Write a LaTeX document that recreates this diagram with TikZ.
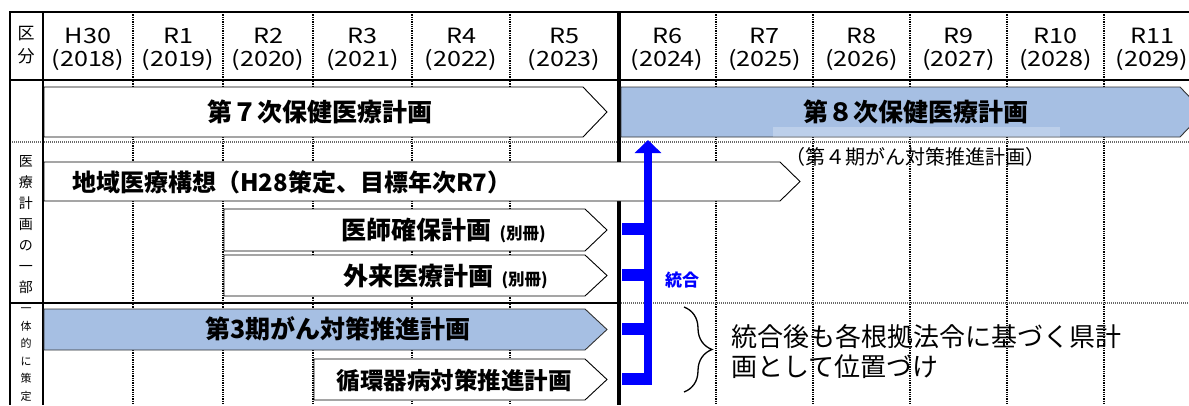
\documentclass[tikz,border=0pt]{standalone}
\usepackage{fontspec}
\setmainfont{Noto Sans CJK JP}
\newfontfamily\latfont[FakeStretch=1.2]{Noto Sans CJK JP}
\usetikzlibrary{arrows.meta,decorations.pathreplacing}
\definecolor{planblue}{RGB}{166,191,227}
\definecolor{busblue}{RGB}{0,0,255}
\definecolor{gridgray}{RGB}{105,105,105}
\newcommand{\planshape}[6]{\draw[#1] (#2,#3) -- ({#4-#6},#3) -- (#4,{(#3+#5)/2}) -- ({#4-#6},#5) -- (#2,#5) -- cycle;}
\begin{document}
\begin{tikzpicture}[x=1pt,y=-1pt,
  frameline/.style={line width=2pt,black},
  colsep/.style={line width=1.1pt,black,dash pattern=on 1.3pt off 1pt},
  rowsep/.style={line width=1.1pt,gridgray,dash pattern=on 1pt off 1pt},
  planbox/.style={draw=black,line width=0.9pt,fill=white},
  bluebox/.style={draw=black!80,line width=0.9pt,fill=planblue},
  boxtext/.style={inner sep=0pt,font=\bfseries\fontsize{25}{28}\selectfont},
  yrtext/.style={inner sep=0pt,font=\latfont\fontsize{21}{24}\selectfont},
  sidetext/.style={inner sep=0pt,align=center},
  notetext/.style={inner sep=0pt,font=\fontsize{20}{23}\selectfont},
  bustext/.style={inner sep=0pt,text=busblue,font=\bfseries\fontsize{17}{20}\selectfont},
  bodytext/.style={inner sep=0pt,align=left,font=\fontsize{26}{30}\selectfont},
  busline/.style={busblue,line width=8pt},
  busstub/.style={busblue,line width=12pt},
]
\useasboundingbox (0,0) rectangle (1189,405);
% ---------- grid ----------
\foreach \gx in {133,223,313,412,510,716,813,910,1007,1104}
  \draw[colsep] (\gx,12) -- (\gx,405);
\draw[rowsep] (10,142) -- (1189,142);
\draw[rowsep] (619,303) -- (1189,303);
\draw[line width=1.2pt] (10,303) -- (619,303);
\draw[line width=1.3pt] (10,80) -- (1189,80);
\draw[frameline] (9,12) -- (1189,12);
\draw[frameline] (10,12) -- (10,405);
\draw[frameline] (43,12) -- (43,405);
\draw[line width=3.5pt] (619,12) -- (619,405);
% ---------- plan boxes ----------
\planshape{planbox}{44}{87}{607}{137}{24}
\planshape{bluebox}{621}{87}{1204}{137}{24}
\fill[white,opacity=0.25] (773,127) rectangle (1060,136.5);
\planshape{planbox}{44}{162}{800}{201}{20}
\planshape{planbox}{224}{209}{607}{251}{22}
\planshape{planbox}{224}{255}{607}{296}{22}
\planshape{bluebox}{44}{309}{607}{350}{22}
\planshape{planbox}{314}{359}{607}{400}{22}
% ---------- integration bus ----------
\coordinate (busbot) at (648,385);
\coordinate (p8in) at (648,137);
\draw[busline,-{Triangle[length=13pt,width=26pt]},shorten >=3pt] (busbot) -- (p8in);
\draw[busstub] (622,229) -- (648,229);
\draw[busstub] (622,275) -- (648,275);
\draw[busstub] (622,329) -- (648,329);
\draw[busstub] (622,379) -- (648,379);
% ---------- brace ----------
\draw[line width=1.3pt,decorate,decoration={brace,amplitude=28pt}] (684,307) -- (684,392);
% ---------- header ----------
\node[sidetext,font=\fontsize{17}{20}\selectfont] (ku) at (26,34) {区};
\node[sidetext,font=\fontsize{17}{20}\selectfont] (bun) at (26,56) {分};
\foreach \cx/\ya/\yb [count=\i] in {88/H30/2018,178/R1/2019,268/R2/2020,362.5/R3/2021,461/R4/2022,564/R5/2023,667/R6/2024,764.5/R7/2025,861.5/R8/2026,958.5/R9/2027,1055.5/R10/2028,1152/R11/2029}{
  \node[yrtext] (era\i) at (\cx,36) {\ya};
  \node[yrtext] (yr\i) at (\cx,60) {(\yb)};
}
% ---------- side labels ----------
\node[sidetext,font=\fontsize{14}{21}\selectfont] (side1) at (26,225) {医\\療\\計\\画\\の\\一\\部};
\node[sidetext,font=\fontsize{11}{17.5}\selectfont,anchor=north] (side2) at (26,308) {一\\体\\的\\に\\策\\定};
% ---------- box texts ----------
\node[boxtext] (p7) at (320,112) {第７次保健医療計画};
\node[boxtext,anchor=west] (p8) at (803,112) {第８次保健医療計画};
\node[boxtext,anchor=west,font=\bfseries\fontsize{24}{28}\selectfont] (chiiki) at (72,182) {地域医療構想（H28策定、目標年次R7）};
\node[boxtext,anchor=east] (ishi) at (546,230) {医師確保計画\hspace{8pt}{\fontsize{16.5}{18}\selectfont (別冊)}};
\node[boxtext,anchor=east] (gairai) at (548,276) {外来医療計画\hspace{8pt}{\fontsize{16.5}{18}\selectfont (別冊)}};
\node[boxtext] (gan3) at (338,329) {第3期がん対策推進計画};
\node[boxtext,anchor=east,font=\bfseries\fontsize{23.5}{28}\selectfont] (junkan) at (572,380) {循環器病対策推進計画};
\node[notetext] (gan4) at (915,157) {（第４期がん対策推進計画）};
\node[bustext] (togo) at (682,280) {統合};
\node[bodytext,anchor=west] (after) at (731,352) {統合後も各根拠法令に基づく県計\\画として位置づけ};
\end{tikzpicture}
\end{document}
